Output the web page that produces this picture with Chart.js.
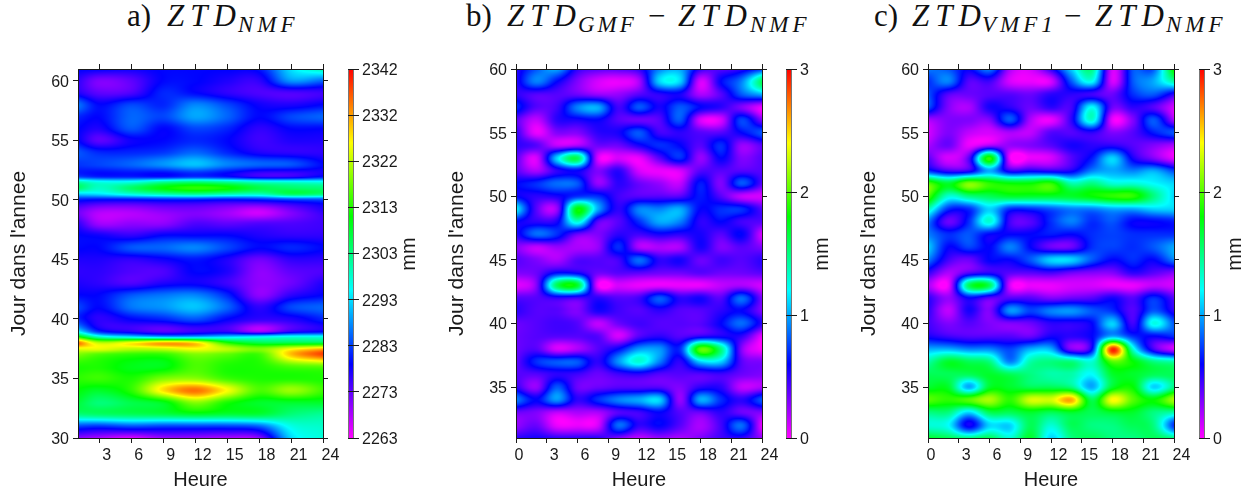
<!DOCTYPE html>
<html>
<head>
<meta charset="utf-8">
<script src="https://cdn.jsdelivr.net/npm/chart.js@4"></script>
<style>
  html, body { margin: 0; padding: 0; background: #fff; width: 1258px; height: 495px; overflow: hidden; }
  canvas { position: absolute; top: 0; }
  .t { position: absolute; top: -1px; font-family: "Liberation Serif", serif; font-size: 31px; color: #111; white-space: nowrap; line-height: 34px; }
  .t.z { font-style: italic; letter-spacing: 6px; }
  .t.s { top: 8px; font-size: 23px; font-style: italic; letter-spacing: 4px; }
</style>
</head>
<body>
<span class="t" style="left:127px">a)</span><span class="t z" style="left:167px">ZTD</span><span class="t s" style="left:238px">NMF</span>
<span class="t" style="left:466px">b)</span><span class="t z" style="left:507px">ZTD</span><span class="t s" style="left:578px;letter-spacing:3px">GMF</span><span class="t" style="left:648px">−</span><span class="t z" style="left:678px">ZTD</span><span class="t s" style="left:750px">NMF</span>
<span class="t" style="left:874px">c)</span><span class="t z" style="left:912px">ZTD</span><span class="t s" style="left:982px">VMF1</span><span class="t" style="left:1064px">−</span><span class="t z" style="left:1095px">ZTD</span><span class="t s" style="left:1166px">NMF</span>

<canvas id="heatA" height="495"></canvas>
<canvas id="barA" height="495"></canvas>
<canvas id="heatB" height="495"></canvas>
<canvas id="barB" height="495"></canvas>
<canvas id="heatC" height="495"></canvas>
<canvas id="barC" height="495"></canvas>

<script>
const hoursA = [1, 3, 6, 9, 12, 15, 18, 21, 24];
const daysA = [61, 60, 59, 58, 57, 56, 55, 54, 53, 52, 51.5, 51, 50.5, 50, 49, 48, 47, 46, 45, 44, 43, 42, 41, 40, 39, 38.5, 38, 37.5, 37, 36, 35, 34, 33, 32, 31, 30];
const ztdNmf = [
  [2279, 2279, 2278, 2279, 2279, 2279, 2280, 2293, 2300],
  [2276, 2271, 2273, 2279, 2279, 2277, 2276, 2288, 2285],
  [2277, 2273, 2274, 2281, 2279, 2276, 2274, 2274, 2275],
  [2286, 2279, 2283, 2281, 2287, 2283, 2278, 2277, 2279],
  [2281, 2279, 2285, 2283, 2289, 2285, 2279, 2283, 2285],
  [2279, 2277, 2284, 2279, 2283, 2281, 2276, 2279, 2279],
  [2279, 2273, 2278, 2279, 2281, 2279, 2275, 2277, 2277],
  [2284, 2281, 2281, 2282, 2285, 2281, 2277, 2276, 2276],
  [2282, 2283, 2285, 2288, 2291, 2287, 2285, 2284, 2279],
  [2282, 2280, 2280, 2279, 2281, 2279, 2275, 2275, 2279],
  [2300, 2296, 2296, 2301, 2303, 2301, 2298, 2297, 2296],
  [2304, 2298, 2304, 2310, 2313, 2311, 2306, 2304, 2303],
  [2292, 2293, 2297, 2300, 2302, 2300, 2299, 2305, 2303],
  [2280, 2279, 2279, 2280, 2280, 2279, 2280, 2282, 2283],
  [2272, 2268, 2268, 2270, 2271, 2269, 2266, 2271, 2276],
  [2276, 2269, 2270, 2270, 2274, 2273, 2274, 2274, 2275],
  [2279, 2278, 2276, 2279, 2279, 2279, 2277, 2276, 2276],
  [2279, 2279, 2284, 2285, 2287, 2283, 2279, 2281, 2279],
  [2277, 2277, 2276, 2278, 2280, 2277, 2272, 2276, 2276],
  [2276, 2276, 2274, 2274, 2279, 2277, 2270, 2273, 2274],
  [2277, 2276, 2274, 2277, 2278, 2275, 2270, 2272, 2277],
  [2279, 2279, 2284, 2286, 2287, 2281, 2270, 2276, 2279],
  [2283, 2279, 2286, 2288, 2291, 2285, 2276, 2283, 2285],
  [2281, 2276, 2279, 2281, 2284, 2279, 2276, 2277, 2281],
  [2293, 2280, 2276, 2273, 2275, 2275, 2268, 2275, 2278],
  [2312, 2298, 2293, 2290, 2290, 2292, 2294, 2296, 2296],
  [2335, 2322, 2326, 2331, 2328, 2312, 2306, 2306, 2306],
  [2325, 2325, 2322, 2323, 2326, 2322, 2318, 2325, 2330],
  [2318, 2315, 2313, 2313, 2318, 2316, 2314, 2330, 2338],
  [2312, 2312, 2309, 2309, 2315, 2312, 2312, 2315, 2316],
  [2313, 2314, 2312, 2318, 2319, 2314, 2312, 2312, 2312],
  [2310, 2308, 2313, 2328, 2335, 2326, 2315, 2320, 2314],
  [2307, 2303, 2306, 2309, 2319, 2312, 2308, 2308, 2308],
  [2303, 2304, 2305, 2306, 2308, 2307, 2307, 2303, 2301],
  [2283, 2282, 2284, 2283, 2283, 2283, 2285, 2296, 2298],
  [2270, 2268, 2265, 2269, 2269, 2268, 2270, 2292, 2297]
];

const hoursB = [0, 2, 4, 6, 8, 10, 12, 14, 16, 18, 20, 22, 24];
const daysB = [60, 59, 58, 57, 56, 55, 54, 53, 52, 51, 50, 49, 48, 47, 46, 45, 44, 43, 42, 41, 40, 39, 38, 37, 36, 35, 34, 33, 32, 31];
const diffGmf = [
  [.5, .8, 1.0, .5, .4, .4, .5, .9, 1.0, .5, .4, .5, .7],
  [.5, .9, .6, .3, .1, .05, .2, 1.1, 1.1, .1, .6, .9, 1.6],
  [.5, .4, .4, .35, .25, .25, .4, .5, .55, .2, .4, .8, 1.0],
  [.7, .4, .45, .9, 1.0, .45, .8, .55, .8, .6, .5, .3, .05],
  [.4, .15, .5, .55, .6, .4, .35, .4, .8, .1, .1, .75, .3],
  [.5, .05, .3, .3, .5, .55, .8, .45, .5, .4, .4, .6, .8],
  [.5, .4, .15, .2, .35, .35, .55, .7, .6, .4, .7, .25, .4],
  [.4, .1, 1.1, 1.6, .1, .1, .05, .4, .7, .25, .6, .3, .4],
  [.4, .2, .5, .6, .3, .5, .1, .05, .1, .4, .4, .4, .4],
  [.6, .7, .85, .8, .25, .5, .35, .25, .15, .65, .3, .8, .4],
  [.6, .5, .55, .7, .7, .45, .4, .4, .4, .65, .4, .15, .1],
  [1.2, .4, .25, 1.8, 1.0, .5, .9, .9, 1.0, .6, .7, .7, .4],
  [.6, .5, .55, 1.3, .4, .4, .7, 1.0, .9, .5, .6, .45, .4],
  [.5, .85, .7, .35, .3, .5, .45, .55, .5, .55, .4, .6, .1],
  [.3, .15, .25, .2, .25, .7, .2, .2, .2, .55, .3, .4, .3],
  [.4, .3, .2, .4, .4, .45, .85, .5, .55, .35, .45, .4, .5],
  [.3, .35, .6, .55, .35, .4, .4, .35, .35, .4, .35, .35, .4],
  [.05, .3, 1.6, 1.7, .05, .1, .05, .05, .05, .05, .15, .2, .1],
  [.4, .4, .5, .45, .5, .4, .45, .8, .5, .55, .4, .85, .3],
  [.5, .4, .4, .3, .55, .45, .4, .5, .4, .4, .5, .6, .3],
  [.35, .4, .45, .4, .15, .35, .45, .4, .4, .4, .6, .85, .5],
  [.35, .4, .4, .4, .4, .1, .4, .5, .4, .5, .55, .5, .05],
  [.35, .4, .1, .2, .4, .6, .95, .95, .7, 2.0, 1.5, .3, 0],
  [.35, .7, .8, .8, .5, .95, 1.3, .9, .5, 1.1, 1.1, .4, .3],
  [.4, .4, .5, .45, .35, .45, .5, .4, .4, .4, .45, .35, .3],
  [.5, .25, .8, .35, .35, .4, .4, .4, .3, .5, .5, .15, .2],
  [.9, .6, .95, .5, .7, .9, 1.0, 1.1, .25, 1.0, .7, .5, .8],
  [.35, .3, .15, .2, .2, .4, .45, .6, .4, .35, .5, .35, .3],
  [.25, .35, .05, .05, .1, .85, .5, .6, .4, .2, .45, .85, .05],
  [.5, .55, .5, .5, .5, .3, .15, .25, .2, .3, .45, .5, .25]
];
const diffVmf = [
  [.9, .8, .6, .9, .2, .1, .5, 1.1, 1.5, .1, .8, .8, 1.9],
  [.7, .9, .4, .45, .1, .05, .1, .8, 1.2, .1, .8, 1.0, 1.4],
  [.8, .4, .35, .4, .4, .35, .5, .5, .45, .35, .7, .8, .5],
  [.8, .3, .2, .55, .5, .35, .5, .45, 1.2, .35, .5, .4, .1],
  [.2, .3, .3, .3, .8, .2, .05, .5, 1.3, .05, .3, .8, .2],
  [.1, .3, .15, .1, .2, .15, .4, .4, .5, .3, .4, .65, .8],
  [.2, .35, .05, .2, .25, .3, .4, .55, .5, .5, .4, .3, .2],
  [.4, .1, .4, 1.9, .05, .05, .1, .4, .65, 1.1, .55, .3, .05],
  [.7, .45, .5, 1.0, .5, .55, .5, .55, .9, 1.0, .9, 1.0, .75],
  [2.0, 1.7, 2.1, 1.9, 1.8, 1.8, 1.9, 1.4, 1.5, 1.3, 1.3, 1.2, 1.1],
  [2.0, 1.3, 1.5, 1.6, 1.7, 1.7, 1.7, 1.7, 1.8, 1.9, 1.9, 1.5, 1.1],
  [1.4, .7, .7, 1.1, .7, .7, .8, .9, .9, 1.0, 1.0, 1.1, 1.1],
  [.9, .35, .7, 1.3, .45, .4, .7, .9, .7, .8, .6, .6, .65],
  [.9, .7, .8, .6, .6, .6, .65, .6, .7, .75, .7, .7, .7],
  [1.1, .6, .75, .6, .9, .6, .35, .35, .7, .75, .7, .8, 1.0],
  [.9, .45, .35, .6, .6, .8, 1.1, 1.1, .8, .6, .7, .6, .9],
  [.5, .2, .4, .5, .4, .4, .45, .35, .3, .3, .5, .4, .3],
  [.2, .05, 1.6, 1.6, .1, .05, .05, .1, .1, .05, .05, .15, .1],
  [.5, .25, .6, .4, .4, .4, .3, .35, .4, .55, .4, .7, .4],
  [.5, .15, .55, .3, .95, .75, .9, .95, .8, .7, .4, .8, .5],
  [.45, .3, .4, .3, .3, .35, .5, .5, .6, 1.1, .45, 1.25, .8],
  [.55, .45, .4, .4, .4, .35, .55, .5, .6, 1.0, .7, .6, .7],
  [1.0, 1.0, .9, .9, .75, 1.0, 1.0, .3, .6, 2.9, 1.3, .45, .1],
  [1.4, 1.7, 1.6, 1.5, .9, 1.4, 1.5, 1.5, 1.3, 2.0, 1.8, 1.5, 1.4],
  [1.6, 1.6, 1.6, 1.7, 1.6, 1.5, 1.4, 1.4, 1.2, 1.7, 1.7, 1.6, 1.6],
  [1.7, 1.7, 1.0, 1.7, 1.7, 1.6, 1.6, 1.5, 1.0, 1.7, 1.8, 1.1, 1.5],
  [2.0, 1.9, 2.0, 2.2, 1.9, 2.3, 2.3, 2.6, 1.6, 2.4, 2.0, 1.8, 2.2],
  [1.5, 1.5, 1.1, 1.6, 1.6, 1.7, 1.6, 1.7, 1.6, 1.7, 1.7, 1.5, 1.4],
  [1.3, 1.2, .55, 1.1, 1.1, 1.6, 1.3, 1.6, 1.5, 1.5, 1.6, 1.5, .7],
  [1.7, 1.6, 1.5, 1.6, 1.3, 1.7, 1.1, 1.5, 1.6, 1.5, 1.5, 1.6, 1.5]
];

const xTicksA = [3, 6, 9, 12, 15, 18, 21, 24];
const xTicksB = [0, 3, 6, 9, 12, 15, 18, 21, 24];
const yTicksA = [30, 35, 40, 45, 50, 55, 60];
const yTicksB = [35, 40, 45, 50, 55, 60];
const barLabelsA = ['2263', '2273', '2283', '2293', '2303', '2313', '2322', '2332', '2342'];
const barLabelsB = ['0', '1', '2', '3'];
const rainbow = [[255, 0, 255], [0, 0, 255], [0, 255, 255], [0, 255, 0], [255, 255, 0], [255, 0, 0]];

const FONT = '"Liberation Sans", Arial, sans-serif';
const INK = '#1a1a1a';
const PLOT_TOP = 69, PLOT_BOTTOM = 438;

function colorAt(t) {
  t = Math.min(1, Math.max(0, t)) * (rainbow.length - 1);
  const i = Math.min(rainbow.length - 2, Math.floor(t));
  const f = t - i;
  return rainbow[i].map((c, k) => c + (rainbow[i + 1][k] - c) * f);
}

// smooth curve through one row or column of the grid, like the pm3d fill of the original
function smooth(ts, vs, t) {
  const n = ts.length;
  const dir = ts[1] > ts[0] ? 1 : -1;
  let i = 0;
  while (i < n - 2 && (t - ts[i + 1]) * dir > 0) i++;
  const h = ts[i + 1] - ts[i];
  const s = Math.min(1, Math.max(0, (t - ts[i]) / h));
  const m0 = i > 0 ? (vs[i + 1] - vs[i - 1]) / (ts[i + 1] - ts[i - 1]) : (vs[1] - vs[0]) / h;
  const m1 = i < n - 2 ? (vs[i + 2] - vs[i]) / (ts[i + 2] - ts[i]) : (vs[i + 1] - vs[i]) / h;
  const s2 = s * s, s3 = s2 * s;
  return (2 * s3 - 3 * s2 + 1) * vs[i] + (s3 - 2 * s2 + s) * h * m0 + (-2 * s3 + 3 * s2) * vs[i + 1] + (s3 - s2) * h * m1;
}

// fills the plot area from the dataset, reading positions back through the scales
const heatPlugin = {
  id: 'heat',
  beforeDraw(chart) {
    const ds = chart.data.datasets[0];
    const { hours, days, vmin, vmax } = ds.meta;
    const nx = hours.length;
    const area = chart.chartArea;
    const left = Math.round(area.left), top = Math.round(area.top);
    const w = Math.round(area.right) - left, h = Math.round(area.bottom) - top;
    const img = chart.ctx.createImageData(w, h);
    for (let px = 0; px < w; px++) {
      const hour = chart.scales.x.getValueForPixel(left + px + 0.5);
      const col = days.map((d, r) => smooth(hours, hours.map((_, c) => ds.data[r * nx + c].v), hour));
      for (let py = 0; py < h; py++) {
        const day = chart.scales.y.getValueForPixel(top + py + 0.5);
        const rgb = colorAt((smooth(days, col, day) - vmin) / (vmax - vmin));
        const o = (py * w + px) * 4;
        img.data[o] = rgb[0]; img.data[o + 1] = rgb[1]; img.data[o + 2] = rgb[2]; img.data[o + 3] = 255;
      }
    }
    chart.ctx.putImageData(img, left, top);
  }
};

const barPlugin = {
  id: 'colorbar',
  beforeDraw(chart) {
    const { ctx, chartArea: a, scales: { y } } = chart;
    const g = ctx.createLinearGradient(0, y.getPixelForValue(y.min), 0, y.getPixelForValue(y.max));
    rainbow.forEach((c, i) => g.addColorStop(i / (rainbow.length - 1), `rgb(${c.join(',')})`));
    ctx.fillStyle = g;
    ctx.fillRect(a.left, a.top, a.right - a.left, a.bottom - a.top);
    ctx.strokeStyle = '#777';
    ctx.lineWidth = 1;
    ctx.strokeRect(Math.round(a.left) + 0.5, Math.round(a.top) + 0.5, a.right - a.left - 1, a.bottom - a.top);
  },
  afterDraw(chart) {
    const { ctx } = chart;
    ctx.save();
    ctx.translate(chart.options.unitX, 254);
    ctx.rotate(-Math.PI / 2);
    ctx.font = '20px ' + FONT;
    ctx.fillStyle = INK;
    ctx.textAlign = 'center';
    ctx.textBaseline = 'middle';
    ctx.fillText('mm', 0, 0);
    ctx.restore();
  }
};

function fixedTicks(values) {
  return scale => { scale.ticks = values.map(v => ({ value: v })); };
}

function makeHeat(id, left, right, hours, days, grid, vmin, vmax, xTicks, yTicks, xMin, yMin, yMax) {
  const canvas = document.getElementById(id);
  canvas.width = right - left + 78 + 24;
  canvas.style.left = (left - 78) + 'px';
  const points = [];
  days.forEach((d, r) => hours.forEach((h, c) => points.push({ x: h, y: d, v: grid[r][c] })));
  const tick = { display: true, color: INK, tickLength: 5, drawOnChartArea: false, drawTicks: true, tickColor: INK };
  const border = { display: true, color: INK, width: 1 };
  const ticksFont = { family: FONT, size: 16 };
  new Chart(canvas, {
    type: 'scatter',
    data: { datasets: [{ data: points, pointRadius: 0, meta: { hours, days, vmin, vmax } }] },
    plugins: [heatPlugin],
    options: {
      responsive: false,
      animation: false,
      events: [],
      layout: { padding: { left: 0, right: 24, top: PLOT_TOP, bottom: 0 } },
      plugins: { legend: { display: false }, tooltip: { enabled: false } },
      scales: {
        x: {
          type: 'linear', min: xMin, max: 24, position: 'bottom',
          afterBuildTicks: fixedTicks(xTicks),
          afterFit: s => { s.height = 495 - PLOT_BOTTOM; },
          grid: tick, border,
          ticks: {
            color: INK, font: ticksFont, padding: 3, labelOffset: 7.5, maxRotation: 0, autoSkip: false,
            callback: v => (v === 0 ? '0  ' : String(v))
          },
          title: { display: true, text: 'Heure', color: INK, font: { family: FONT, size: 20 }, padding: { top: 3, bottom: 3 } }
        },
        x2: {
          type: 'linear', min: xMin, max: 24, position: 'top',
          afterBuildTicks: fixedTicks(xTicks),
          afterFit: s => { s.height = 0; },
          grid: tick, border,
          ticks: { display: false }
        },
        y: {
          type: 'linear', min: yMin, max: yMax, position: 'left',
          afterBuildTicks: fixedTicks(yTicks),
          afterFit: s => { s.width = 78; },
          grid: tick, border,
          ticks: { color: INK, font: ticksFont, padding: 4, labelOffset: 1.5, autoSkip: false },
          title: { display: true, text: "Jour dans l'annee", color: INK, font: { family: FONT, size: 21 }, padding: { top: 7, bottom: 0 } }
        },
        y2: {
          type: 'linear', min: yMin, max: yMax, position: 'right',
          afterBuildTicks: fixedTicks(yTicks),
          afterFit: s => { s.width = 0; },
          grid: tick, border,
          ticks: { display: false }
        }
      }
    }
  });
}

function makeBar(id, left, unitX, labels, width) {
  const canvas = document.getElementById(id);
  canvas.width = width;
  canvas.style.left = left + 'px';
  const values = labels.map((l, i) => i);
  new Chart(canvas, {
    type: 'scatter',
    data: { datasets: [{ data: [], pointRadius: 0 }] },
    plugins: [barPlugin],
    options: {
      responsive: false,
      animation: false,
      events: [],
      unitX,
      layout: { padding: { left: 0, right: 0, top: PLOT_TOP, bottom: 495 - PLOT_BOTTOM } },
      plugins: { legend: { display: false }, tooltip: { enabled: false } },
      scales: {
        x: { display: false },
        y: {
          type: 'linear', min: 0, max: labels.length - 1, position: 'right',
          afterBuildTicks: fixedTicks(values),
          afterFit: s => { s.width = width - 6; },
          grid: { color: INK, tickColor: INK, tickLength: 5, drawOnChartArea: true, drawTicks: true },
          border: { display: false },
          ticks: { color: INK, font: { family: FONT, size: 16 }, padding: 3, labelOffset: 1.5, autoSkip: false, callback: v => labels[v] }
        }
      }
    }
  });
}

makeHeat('heatA', 78, 323, hoursA, daysA, ztdNmf, 2263, 2342, xTicksA, yTicksA, 1, 30, 61);
makeBar('barA', 348, 61, barLabelsA, 80);
makeHeat('heatB', 516, 762, hoursB, daysB, diffGmf, 0, 3, xTicksB, yTicksB, 0, 31, 60);
makeBar('barB', 786, 36, barLabelsB, 60);
makeHeat('heatC', 928, 1174, hoursB, daysB, diffVmf, 0, 3, xTicksB, yTicksB, 0, 31, 60);
makeBar('barC', 1199, 36, barLabelsB, 54);
</script>
</body>
</html>
